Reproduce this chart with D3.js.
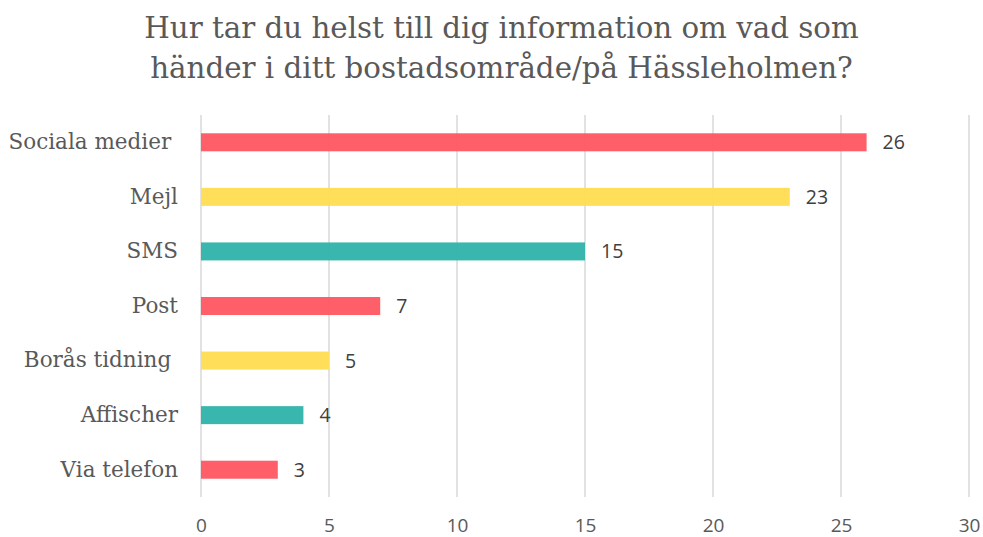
<!DOCTYPE html>
<html>
<head>
<meta charset="utf-8">
<script src="https://cdn.jsdelivr.net/npm/d3@7"></script>
<style>
  html, body { margin: 0; padding: 0; background: #fff; }
  svg { display: block; }
</style>
</head>
<body>
<svg id="chart" width="983" height="537"></svg>
<script>
// Survey answers: preferred channel for neighbourhood news
const categories = ["Sociala medier ", "Mejl", "SMS", "Post", "Borås tidning ", "Affischer", "Via telefon"];
const values = [26, 23, 15, 7, 5, 4, 3];
const barColors = ["#FF5A64", "#FFDD55", "#33B5AB", "#FF5A64", "#FFDD55", "#33B5AB", "#FF5A64"];
const tickValues = [0, 5, 10, 15, 20, 25, 30];
const titleLines = ["Hur tar du helst till dig information om vad som", "händer i ditt bostadsområde/på Hässleholmen?"];

const svg = d3.select("#chart");
const W = 983, H = 537;
const plot = { left: 201, right: 969, top: 115, bottom: 497 };

const x = d3.scaleLinear().domain([0, 30]).range([plot.left, plot.right]);
const y = d3.scaleBand().domain(categories).range([plot.top, plot.bottom]).paddingInner(0.67).paddingOuter(0.335);

const serif = "'DejaVu Serif', 'Liberation Serif', serif";
const sans = "'Open Sans', 'Liberation Sans', sans-serif";

// Title
svg.append("g").selectAll("text").data(titleLines).join("text")
  .attr("x", W / 2 + 10)
  .attr("y", (d, i) => 38 + i * 40)
  .attr("text-anchor", "middle")
  .attr("font-family", serif)
  .attr("font-size", 29.3)
  .attr("fill", "#595959")
  .text(d => d);

// Vertical gridlines
svg.append("g").selectAll("line").data(tickValues).join("line")
  .attr("x1", d => x(d)).attr("x2", d => x(d))
  .attr("y1", plot.top).attr("y2", plot.bottom)
  .attr("stroke", "#d9d9d9").attr("stroke-width", 1.5);

// Bars
svg.append("g").selectAll("rect").data(values).join("rect")
  .attr("x", x(0))
  .attr("y", (d, i) => y(categories[i]))
  .attr("width", d => x(d) - x(0))
  .attr("height", y.bandwidth())
  .attr("fill", (d, i) => barColors[i])
  .attr("fill-opacity", 0.97);

// Value labels
svg.append("g").selectAll("text").data(values).join("text")
  .attr("x", d => x(d) + 16)
  .attr("y", (d, i) => y(categories[i]) + y.bandwidth() / 2)
  .attr("dy", "0.36em")
  .attr("font-family", sans)
  .attr("font-size", 19.5)
  .attr("fill", "#404040")
  .text(d => d);

// Category axis
const yAxis = d3.axisLeft(y).tickSize(0).tickPadding(0);
const gy = svg.append("g").attr("transform", `translate(178,0)`).call(yAxis);
gy.select(".domain").remove();
gy.selectAll("text")
  .attr("font-family", serif)
  .attr("font-size", 21.5)
  .attr("fill", "#595959")
  .style("white-space", "pre");

// Value axis
const xAxis = d3.axisBottom(x).tickValues(tickValues).tickSize(0).tickPadding(0);
const gx = svg.append("g").attr("transform", `translate(0,${plot.bottom})`).call(xAxis);
gx.select(".domain").remove();
gx.selectAll("text")
  .attr("y", 35)
  .attr("dy", null)
  .attr("font-family", sans)
  .attr("font-size", 19)
  .attr("fill", "#595959");
</script>
</body>
</html>
